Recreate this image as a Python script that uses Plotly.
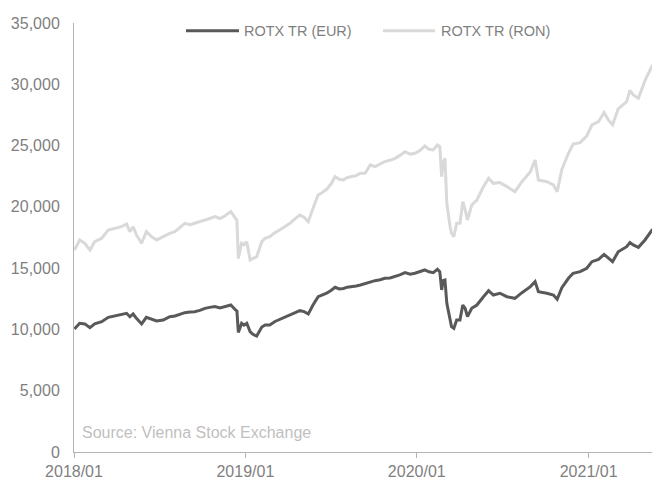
import plotly.graph_objects as go

dates = [
    "2018-01-02", "2018-01-13", "2018-01-24", "2018-02-04", "2018-02-14", "2018-03-01",
    "2018-03-15", "2018-03-29", "2018-04-12", "2018-04-23", "2018-04-30", "2018-05-07",
    "2018-05-14", "2018-05-25", "2018-06-04", "2018-06-15", "2018-06-26", "2018-07-10",
    "2018-07-24", "2018-08-04", "2018-08-14", "2018-08-25", "2018-09-05", "2018-09-15",
    "2018-09-26", "2018-10-07", "2018-10-17", "2018-10-28", "2018-11-08", "2018-11-18",
    "2018-12-01", "2018-12-11", "2018-12-14", "2018-12-17", "2018-12-24", "2018-12-29",
    "2019-01-04", "2019-01-11", "2019-01-17", "2019-01-25", "2019-02-05", "2019-02-12",
    "2019-02-22", "2019-03-05", "2019-03-15", "2019-03-26", "2019-04-06", "2019-04-16",
    "2019-04-27", "2019-05-06", "2019-05-15", "2019-05-25", "2019-06-05", "2019-06-13",
    "2019-06-23", "2019-07-03", "2019-07-11", "2019-07-20", "2019-07-29", "2019-08-06",
    "2019-08-16", "2019-08-25", "2019-09-03", "2019-09-13", "2019-09-24", "2019-10-04",
    "2019-10-15", "2019-10-25", "2019-11-05", "2019-11-16", "2019-11-26", "2019-12-07",
    "2019-12-18", "2019-12-28", "2020-01-08", "2020-01-18", "2020-01-27", "2020-02-05",
    "2020-02-14", "2020-02-19", "2020-02-23", "2020-02-26", "2020-03-01", "2020-03-05",
    "2020-03-12", "2020-03-15", "2020-03-20", "2020-03-26", "2020-04-02", "2020-04-08",
    "2020-04-13", "2020-04-18", "2020-04-27", "2020-05-08", "2020-05-22", "2020-06-02",
    "2020-06-12", "2020-06-26", "2020-07-11", "2020-07-28", "2020-08-12", "2020-08-30",
    "2020-09-09", "2020-09-16", "2020-10-04", "2020-10-18", "2020-10-26", "2020-11-05",
    "2020-11-19", "2020-11-29", "2020-12-14", "2020-12-28", "2021-01-08", "2021-01-22",
    "2021-02-03", "2021-02-12", "2021-02-21", "2021-03-05", "2021-03-23", "2021-03-30",
    "2021-04-06", "2021-04-17", "2021-05-01", "2021-05-16", "2021-05-26", "2021-05-31",
]

rotx_eur = [
    10040, 10500, 10450, 10140, 10450, 10630,
    10990, 11100, 11230, 11315, 11040, 11260,
    10900, 10450, 10990, 10820, 10690, 10770,
    11040, 11100, 11250, 11370, 11420, 11450,
    11550, 11720, 11800, 11860, 11750, 11830,
    11990, 11590, 11500, 9750, 10500, 10350,
    10500, 9820, 9600, 9460, 10200, 10360,
    10360, 10650, 10820, 10950, 11180, 11350,
    11530, 11450, 11260, 11990, 12670, 12800,
    12950, 13200, 13440, 13300, 13340, 13450,
    13490, 13550, 13630, 13760, 13850, 13980,
    14050, 14170, 14200, 14300, 14450, 14630,
    14500, 14580, 14700, 14850, 14700, 14630,
    14900, 14710, 13220, 13980, 14030, 12130,
    10800, 10230, 10090, 10770, 10770, 11990,
    11720, 11040, 11720, 11990, 12670, 13160,
    12810, 12950, 12670, 12540, 13000, 13490,
    13900, 13080, 12950, 12810, 12460, 13400,
    14170, 14580, 14710, 14990, 15530, 15720,
    16120, 15800, 15530, 16340, 16750, 17080,
    16890, 16700, 17300, 18110, 18250, 18330,
]

rotx_ron = [
    16480, 17300, 17030, 16480, 17160, 17440,
    18110, 18250, 18380, 18600, 17980, 18380,
    17710, 17030, 17980, 17570, 17300, 17570,
    17840, 17980, 18300, 18660, 18550, 18660,
    18750, 18930, 19050, 19200, 19050, 19250,
    19610, 19070, 18900, 15800, 17030, 16900,
    17160, 15670, 15800, 15940, 17160, 17440,
    17570, 17900, 18110, 18400, 18660, 19000,
    19340, 19150, 18790, 19880, 20970, 21150,
    21430, 21900, 22460, 22250, 22190, 22400,
    22460, 22550, 22740, 22740, 23420, 23280,
    23500, 23690, 23800, 23960, 24200, 24500,
    24300, 24370, 24600, 24970, 24700, 24640,
    25050, 24910, 22460, 23560, 23960, 20290,
    18380, 17840, 17570, 18660, 18660, 20420,
    19750, 18930, 20150, 20560, 21650, 22330,
    21920, 21980, 21650, 21240, 22050, 22870,
    23820, 22190, 22050, 21790, 21240, 23050,
    24370, 25130, 25240, 25780, 26680, 26950,
    27700, 27090, 26700, 28000, 28580, 29500,
    29130, 28860, 30300, 31500, 31710, 31850,
]

series_names = ["ROTX TR (EUR)", "ROTX TR (RON)"]
series_colors = ["#595959", "#d9d9d9"]
y_ticks = [0, 5000, 10000, 15000, 20000, 25000, 30000, 35000]
x_range = ["2018-01-01", "2021-06-02"]

FONT = "Arial, 'Liberation Sans', sans-serif"

fig = go.Figure()
fig.add_trace(go.Scatter(x=dates, y=rotx_eur, mode="lines", name=series_names[0],
                         line=dict(color=series_colors[0], width=3)))
fig.add_trace(go.Scatter(x=dates, y=rotx_ron, mode="lines", name=series_names[1],
                         line=dict(color=series_colors[1], width=3)))

# legend drawn as line samples + text labels (Excel-style long line samples)
leg_y = 0.982
leg_items = [(0.1911, 0.2816, 0.2867), (0.5273, 0.6160, 0.6229)]
shapes = []
annotations = []
for (x0, x1, xt), name, col in zip(leg_items, series_names, series_colors):
    shapes.append(dict(type="line", xref="paper", yref="paper", x0=x0, x1=x1,
                       y0=leg_y, y1=leg_y, line=dict(color=col, width=3)))
    annotations.append(dict(text=name, xref="paper", yref="paper", x=xt, y=leg_y,
                            xanchor="left", yanchor="middle", showarrow=False,
                            font=dict(size=14.5, color="#7f7f7f")))
annotations.append(dict(text="Source: Vienna Stock Exchange", xref="paper", yref="paper",
                        x=0.0103, y=0.0466, xanchor="left", yanchor="middle",
                        showarrow=False, font=dict(size=16, color="#bfbfbf")))

fig.update_layout(
    width=652, height=470,
    margin=dict(l=66, r=0, t=15, b=26, pad=0, autoexpand=False),
    paper_bgcolor="white", plot_bgcolor="white",
    font=dict(family=FONT, size=16, color="#7f7f7f"),
    showlegend=False,
    shapes=shapes,
    annotations=annotations,
)
fig.update_xaxes(type="date", range=x_range, tickformat="%Y/%m", dtick="M12",
                 tick0="2018-01-01", showgrid=False, showline=True, linecolor="#b3b3b3",
                 linewidth=1, ticks="outside", ticklen=5, tickcolor="#b3b3b3",
                 tickfont=dict(size=16, color="#7f7f7f"), zeroline=False,
                 automargin=False, ticklabelstandoff=0)
fig.update_yaxes(range=[0, 35000], tickvals=y_ticks, tickformat=",", showgrid=False,
                 showline=True, linecolor="#b3b3b3", linewidth=1, ticks="",
                 ticklabelstandoff=10, tickfont=dict(size=16, color="#7f7f7f"),
                 zeroline=False, automargin=False)

fig.write_html("out.html")
